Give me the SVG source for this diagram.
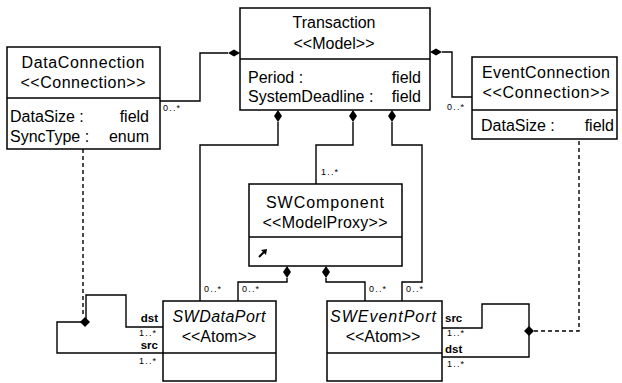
<svg xmlns="http://www.w3.org/2000/svg" width="622" height="383" viewBox="0 0 622 383">
  <style>
    .box { fill: #fff; stroke: #000; stroke-width: 1.5; }
    .div { stroke: #000; stroke-width: 1.5; }
    .ln { fill: none; stroke: #000; stroke-width: 1.4; }
    .dash { fill: none; stroke: #000; stroke-width: 1.4; stroke-dasharray: 4 3; }
    .dia { fill: #000; stroke: none; }
    text { font-family: "Liberation Sans", Arial, sans-serif; fill: #000; }
    .t { font-size: 16px; text-anchor: middle; }
    .it { font-style: italic; }
    .a { font-size: 16px; }
    .r { text-anchor: end; }
    .m { font-size: 9px; letter-spacing: 1.2px; }
    .role { font-size: 11.5px; font-weight: bold; }
  </style>

  <!-- connectors -->
  <g id="connectors">
    <!-- DataConnection to Transaction -->
    <polyline class="ln" points="160,101 200,101 200,53 228,53"/>
    <polygon class="dia" points="240,53 234,49.5 228,53 234,56.5"/>
    <text class="m" x="163" y="111">0..*</text>

    <!-- Transaction to EventConnection -->
    <polyline class="ln" points="442,52 452,52 452,97 472,97"/>
    <polygon class="dia" points="430,52 436,48.5 442,52 436,55.5"/>
    <text class="m" x="447" y="110">0..*</text>

    <!-- Transaction to SWDataPort -->
    <polygon class="dia" points="278,110 282,116 278,122 274,116"/>
    <polyline class="ln" points="278,122 278,145 200,145 200,301"/>
    <text class="m" x="204" y="292">0..*</text>

    <!-- Transaction to SWComponent -->
    <polygon class="dia" points="353,110 357,116 353,122 349,116"/>
    <polyline class="ln" points="353,122 353,145 316,145 316,184"/>
    <text class="m" x="321" y="175">1..*</text>

    <!-- Transaction to SWEventPort -->
    <polygon class="dia" points="392,110 396,116 392,122 388,116"/>
    <polyline class="ln" points="392,122 392,145 422,145 422,282 402,282 402,301"/>
    <text class="m" x="406" y="292">0..*</text>

    <!-- SWComponent to SWDataPort -->
    <polygon class="dia" points="287,266 291,272 287,278 283,272"/>
    <polyline class="ln" points="287,278 287,282 238,282 238,301"/>
    <text class="m" x="242" y="292">0..*</text>

    <!-- SWComponent to SWEventPort -->
    <polygon class="dia" points="326,266 330,272 326,278 322,272"/>
    <polyline class="ln" points="326,278 326,282 365,282 365,301"/>
    <text class="m" x="369" y="292">0..*</text>

    <!-- SWDataPort self association, classed by DataConnection -->
    <polyline class="ln" points="163,327 126,327 126,295 86,295 86,322"/>
    <polyline class="ln" points="85,322 57,322 57,353 163,353"/>
    <polygon class="dia" points="80,322 85,317 90,322 85,327"/>
    <line class="dash" x1="83" y1="149" x2="83" y2="317"/>
    <text class="role r" x="158" y="322">dst</text>
    <text class="m" x="139" y="336">1..*</text>
    <text class="role r" x="158" y="349">src</text>
    <text class="m" x="139" y="364">1..*</text>

    <!-- SWEventPort self association, classed by EventConnection -->
    <polyline class="ln" points="442,328 482,328 482,304 529,304 529,357 442,357"/>
    <polygon class="dia" points="524,331 529,326 534,331 529,336"/>
    <polyline class="dash" points="534,331 579,331 579,139"/>
    <text class="role" x="445" y="322">src</text>
    <text class="m" x="447" y="336">1..*</text>
    <text class="role" x="445" y="353">dst</text>
    <text class="m" x="447" y="367">1..*</text>
  </g>

  <g id="DataConnection">
    <rect class="box" x="7" y="47" width="153" height="102"/>
    <line class="div" x1="7" y1="98" x2="160" y2="98"/>
    <text class="t" x="83" y="68" textLength="123">DataConnection</text>
    <text class="t" x="83" y="88" textLength="125">&lt;&lt;Connection&gt;&gt;</text>
    <text class="a" x="10" y="122">DataSize :</text>
    <text class="a r" x="149" y="122">field</text>
    <text class="a" x="10" y="142">SyncType :</text>
    <text class="a r" x="149" y="142">enum</text>
  </g>

  <g id="Transaction">
    <rect class="box" x="240" y="8" width="190" height="102"/>
    <line class="div" x1="240" y1="59" x2="430" y2="59"/>
    <text class="t" x="334" y="28">Transaction</text>
    <text class="t" x="334" y="49">&lt;&lt;Model&gt;&gt;</text>
    <text class="a" x="248" y="83">Period :</text>
    <text class="a r" x="421" y="83">field</text>
    <text class="a" x="248" y="102">SystemDeadline :</text>
    <text class="a r" x="421" y="102">field</text>
  </g>

  <g id="EventConnection">
    <rect class="box" x="472" y="57" width="145" height="82"/>
    <line class="div" x1="472" y1="110" x2="617" y2="110"/>
    <text class="t" x="546" y="78" textLength="128">EventConnection</text>
    <text class="t" x="546" y="98" textLength="127">&lt;&lt;Connection&gt;&gt;</text>
    <text class="a" x="481" y="131">DataSize :</text>
    <text class="a r" x="614" y="131">field</text>
  </g>

  <g id="SWComponent">
    <rect class="box" x="249" y="184" width="153" height="82"/>
    <line class="div" x1="249" y1="237" x2="402" y2="237"/>
    <text class="t" x="325" y="208" textLength="118">SWComponent</text>
    <text class="t" x="325" y="228" textLength="125">&lt;&lt;ModelProxy&gt;&gt;</text>
    <!-- proxy marker -->
    <path d="M259,257 L265,251" stroke="#000" stroke-width="2" fill="none"/>
    <polygon points="267,249 261,250 266,255" fill="#000"/>
  </g>

  <g id="SWDataPort">
    <rect class="box" x="163" y="301" width="113" height="80"/>
    <line class="div" x1="163" y1="353" x2="276" y2="353"/>
    <text class="t it" x="219" y="322" textLength="93">SWDataPort</text>
    <text class="t" x="219" y="342">&lt;&lt;Atom&gt;&gt;</text>
  </g>

  <g id="SWEventPort">
    <rect class="box" x="327" y="301" width="115" height="80"/>
    <line class="div" x1="327" y1="353" x2="442" y2="353"/>
    <text class="t it" x="383" y="322" textLength="106">SWEventPort</text>
    <text class="t" x="383" y="342">&lt;&lt;Atom&gt;&gt;</text>
  </g>
</svg>
